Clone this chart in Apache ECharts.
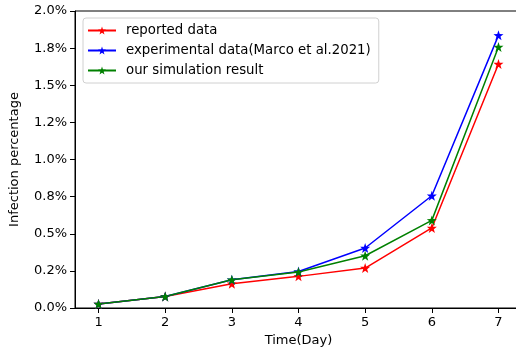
<!DOCTYPE html>
<html>
<head>
<meta charset="utf-8">
<script src="https://cdn.jsdelivr.net/npm/echarts@6/dist/echarts.min.js"></script>
<style>
  html, body { margin: 0; padding: 0; background: #fff; overflow: hidden; }
  #wrap { width: 516px; height: 352px; overflow: hidden; }
  #chart { width: 530px; height: 352px; }
</style>
</head>
<body>
<div id="wrap"><div id="chart"></div></div>
<script>
// data (values in percent)
var days = [1, 2, 3, 4, 5, 6, 7];
var reported = [0.027, 0.078, 0.164, 0.213, 0.269, 0.539, 1.643];
var experimental = [0.027, 0.078, 0.19, 0.246, 0.404, 0.756, 1.836];
var simulation = [0.027, 0.078, 0.19, 0.243, 0.352, 0.59, 1.758];
var yTicks = [0, 0.25, 0.5, 0.75, 1.0, 1.25, 1.5, 1.75, 2.0];
var yTickLabels = ['0.0%', '0.2%', '0.5%', '0.8%', '1.0%', '1.2%', '1.5%', '1.8%', '2.0%'];

//five pointed star used as marker
function starPath() {
    var pts = [];
    for (var i = 0; i < 10; i++) {
        var r = i % 2 === 0 ? 10 : 4;
        var a = -Math.PI / 2 + i * Math.PI / 5;
        pts.push((r * Math.cos(a)).toFixed(2) + ',' + (r * Math.sin(a)).toFixed(2));
    }
    return 'path://M' + pts.join('L') + 'Z';
}
var star = starPath();

function pairs(vals) {
    var list = [];
    for (var i = 0; i < days.length; i++) {
        list.push([days[i], vals[i]]);
    }
    return list;
}

function makeSeries(name, vals, color) {
    return {
        name: name,
        type: 'line',
        data: pairs(vals),
        symbol: star,
        symbolSize: 10,
        showSymbol: true,
        lineStyle: { color: color, width: 1.5 },
        itemStyle: { color: color },
        animation: false
    };
}

var chart = echarts.init(document.getElementById('chart'));
var font = 'DejaVu Sans';

var option = {
    textStyle: { fontFamily: font },
    grid: {
        left: 72, top: 11, width: 450, height: 297,
        show: true, borderColor: '#000', borderWidth: 1
    },
    legend: {
        left: 83, top: 18,
        orient: 'vertical',
        itemWidth: 28, itemHeight: 10, itemGap: 7,
        padding: [6, 8, 6, 4],
        borderColor: '#d0d0d0', borderWidth: 1, borderRadius: 3,
        backgroundColor: 'rgba(255,255,255,0.8)',
        textStyle: { fontFamily: font, fontSize: 13.3, color: '#000', padding: [0, 0, 0, 5] },
        data: ['reported data', 'experimental data(Marco et al.2021)', 'our simulation result']
    },
    xAxis: {
        type: 'value',
        min: 0.647, max: 7.353,
        name: 'Time(Day)',
        nameLocation: 'middle',
        nameGap: 26,
        nameTextStyle: { fontFamily: font, fontSize: 13, color: '#000' },
        axisLine: { onZero: false, lineStyle: { color: '#000' } },
        axisTick: { show: true, length: 5, lineStyle: { color: '#000' }, customValues: days },
        axisLabel: {
            color: '#000', fontSize: 13, margin: 8, fontFamily: font,
            customValues: days,
            formatter: function (v) { return String(v); }
        },
        splitLine: { show: false }
    },
    yAxis: {
        type: 'value',
        min: 0, max: 2.0,
        interval: 0.25,
        name: 'Infection percentage',
        nameLocation: 'middle',
        nameGap: 54,
        nameRotate: 90,
        nameTextStyle: { fontFamily: font, fontSize: 13, color: '#000' },
        axisLine: { show: true, lineStyle: { color: '#000' } },
        axisTick: { show: true, length: 5, lineStyle: { color: '#000' } },
        axisLabel: {
            color: '#000', fontSize: 13, margin: 8, fontFamily: font,
            formatter: function (v) {
                for (var i = 0; i < yTicks.length; i++) {
                    if (Math.abs(yTicks[i] - v) < 1e-6) return yTickLabels[i];
                }
                return '';
            }
        },
        splitLine: { show: false }
    },
    series: [
        makeSeries('reported data', reported, '#ff0000'),
        makeSeries('experimental data(Marco et al.2021)', experimental, '#0000ff'),
        makeSeries('our simulation result', simulation, '#008000')
    ]
};

chart.setOption(option);
</script>
</body>
</html>
